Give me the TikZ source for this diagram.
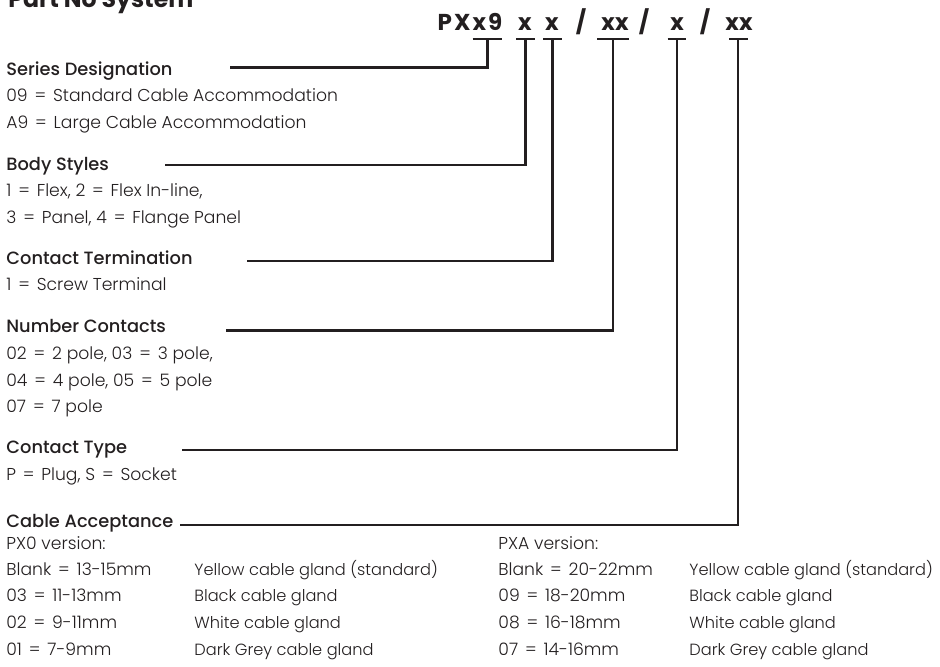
\documentclass[tikz,border=0pt]{standalone}
\usepackage{fontspec}
\usepackage{tikz}
\usetikzlibrary{calc}
\IfFontExistsTF{Poppins Light}
  {\setmainfont{Poppins Light}}
  {\setmainfont{Poppins}}
\IfFontExistsTF{Poppins Medium}
  {\newfontfamily\headfont{Poppins Medium}}
  {\newfontfamily\headfont{Poppins}}
\newfontfamily\heavyfont{Poppins}
\newfontfamily\spacedfont{Poppins}[LetterSpace=9]
\definecolor{ink}{HTML}{231F20}
\newcommand\eqs{\hspace{0.4em}=\hspace{0.4em}}

\begin{document}
\begin{tikzpicture}[x=0.5pt,y=-0.5pt,
  head node/.style={anchor=base west,inner sep=0pt,text=ink,font=\headfont\fontsize{8.9}{11}\selectfont},
  text node/.style={anchor=base west,inner sep=0pt,text=ink,font=\fontsize{8.6}{10}\selectfont},
  gland node/.style={anchor=base west,inner sep=0pt,text=ink,font=\fontsize{8.1}{10}\selectfont},
  code node/.style={anchor=base,inner sep=0pt,text=ink,font=\heavyfont\bfseries\fontsize{11.5}{12}\selectfont},
  lead/.style={draw=ink,line width=1.1pt}]
\useasboundingbox (0,0) rectangle (940,666);

% title, cut by the top edge
\node[anchor=base west,inner sep=0pt,text=ink,font=\heavyfont\bfseries\fontsize{11.8}{13}\selectfont] (title) at (8,7) {Part No System};

% part number
\node[code node,font=\spacedfont\bfseries\fontsize{11.5}{12}\selectfont] (pn) at (470,30) {PXx9};
\node[code node] (x1) at (525,30) {x};
\node[code node] (x2) at (552,30) {x};
\node[code node] (s1) at (581,30) {/};
\node[code node] (x3) at (615,30) {xx};
\node[code node] (s2) at (644,30) {/};
\node[code node] (x4) at (677,30) {x};
\node[code node] (s3) at (705,30) {/};
\node[code node] (x5) at (739,30) {xx};

% tick tops under the code
\coordinate (t1) at (487.5,39.3);
\coordinate (t2) at (525.5,39.3);
\coordinate (t3) at (552.5,39.3);
\coordinate (t4) at (613.3,39.3);
\coordinate (t5) at (677,39.3);
\coordinate (t6) at (738.3,39.3);

\draw[lead] ($(t1)+(-15,0)$) -- ($(t1)+(14.5,0)$);
\draw[lead] ($(t2)+(-9.5,0)$) -- ($(t2)+(9.5,0)$);
\draw[lead] ($(t3)+(-9.5,0)$) -- ($(t3)+(9.5,0)$);
\draw[lead] ($(t4)+(-16,0)$) -- ($(t4)+(16,0)$);
\draw[lead] ($(t5)+(-9.3,0)$) -- ($(t5)+(9.3,0)$);
\draw[lead] ($(t6)+(-9.3,0)$) -- ($(t6)+(9.3,0)$);

% series designation
\node[head node] (sd) at (6,75) {Series Designation};
\node[text node] (sd1) at (6,101.7) {09\eqs Standard Cable Accommodation};
\node[text node] (sd2) at (6,128.3) {A9\eqs Large Cable Accommodation};
\coordinate (l1) at (230,67.5);

% body styles
\node[head node] (bs) at (6,170) {Body Styles};
\node[text node] (bs1) at (6,196.7) {1\eqs Flex, 2\eqs Flex In-line,};
\node[text node] (bs2) at (6,223.3) {3\eqs Panel, 4\eqs Flange Panel};
\coordinate (l2) at (165,165);

% contact termination
\node[head node] (ct) at (6,264) {Contact Termination};
\node[text node] (ct1) at (6,290.7) {1\eqs Screw Terminal};
\coordinate (l3) at (247,261);

% number contacts
\node[head node] (nc) at (6,332.3) {Number Contacts};
\node[text node] (nc1) at (6,359.3) {02\eqs 2 pole, 03\eqs 3 pole,};
\node[text node] (nc2) at (6,386) {04\eqs 4 pole, 05\eqs 5 pole};
\node[text node] (nc3) at (6,412.7) {07\eqs 7 pole};
\coordinate (l4) at (226,330.5);

% contact type
\node[head node] (ty) at (6,453.3) {Contact Type};
\node[text node] (ty1) at (6,480) {P\eqs Plug, S\eqs Socket};
\coordinate (l5) at (182,450);

% cable acceptance
\node[head node] (ca) at (6,527) {Cable Acceptance};
\coordinate (l6) at (180,525);
\node[text node] (pa) at (6,549) {PX0 version:};
\node[text node] (pa1) at (6,575) {Blank\eqs 13-15mm};
\node[text node] (pa2) at (6,601.7) {03\eqs 11-13mm};
\node[text node] (pa3) at (6,628.3) {02\eqs 9-11mm};
\node[text node] (pa4) at (6,655) {01\eqs 7-9mm};
\node[gland node] (pg1) at (194,575) {Yellow cable gland (standard)};
\node[gland node] (pg2) at (194,601.7) {Black cable gland};
\node[gland node] (pg3) at (194,628.3) {White cable gland};
\node[gland node] (pg4) at (194,655) {Dark Grey cable gland};
\node[text node] (xa) at (498,549) {PXA version:};
\node[text node] (xa1) at (498,575) {Blank\eqs 20-22mm};
\node[text node] (xa2) at (498,601.7) {09\eqs 18-20mm};
\node[text node] (xa3) at (498,628.3) {08\eqs 16-18mm};
\node[text node] (xa4) at (498,655) {07\eqs 14-16mm};
\node[gland node] (xg1) at (689,575) {Yellow cable gland (standard)};
\node[gland node] (xg2) at (689,601.7) {Black cable gland};
\node[gland node] (xg3) at (689,628.3) {White cable gland};
\node[gland node] (xg4) at (689,655) {Dark Grey cable gland};

% leader lines
\draw[lead] (l1) -| (t1);
\draw[lead] (l2) -| (t2);
\draw[lead] (l3) -| (t3);
\draw[lead] (l4) -| (t4);
\draw[lead] (l5) -| (t5);
\draw[lead] (l6) -| (t6);

\end{tikzpicture}
\end{document}
